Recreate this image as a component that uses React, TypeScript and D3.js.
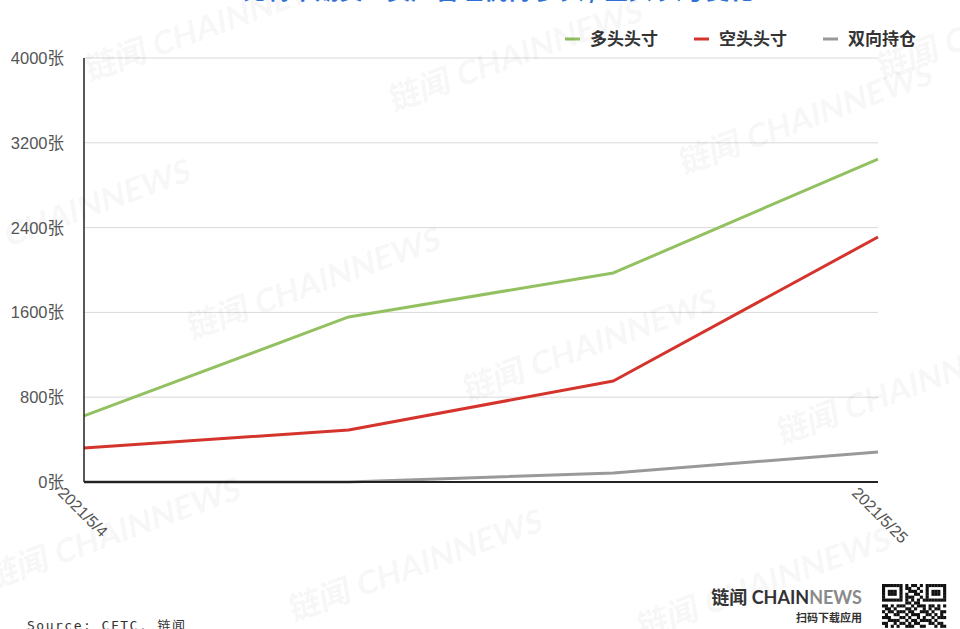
import { useEffect, useRef } from "react";
import * as d3 from "d3";

const DATES = ["2021/5/4", "2021/5/11", "2021/5/18", "2021/5/25"];
const LABELED_DATES = ["2021/5/4", "2021/5/25"];
const LONG_POS = [623, 1557, 1972, 3047];
const SHORT_POS = [321, 491, 953, 2311];
const SPREAD_POS = [0, 0, 85, 283];
const Y_TICKS = [0, 800, 1600, 2400, 3200, 4000];

const SERIES = [
  { name: "多头头寸", values: LONG_POS, color: "#93c162" },
  { name: "空头头寸", values: SHORT_POS, color: "#d4342c" },
  { name: "双向持仓", values: SPREAD_POS, color: "#999999" },
];

// watermark anchors (decoration)
const WATERMARKS: [number, number][] = [
  [88, 82], [392, 112], [682, 175], [-60, 272], [190, 340],
  [466, 402], [780, 445], [-10, 590], [292, 622], [640, 640], [880, 80],
];

const QR = [
  "1111111010110101111111",
  "1000001011001001000001",
  "1011101001110101011101",
  "1011101010011001011101",
  "1000001011100101000001",
  "1111111010101011111111",
  "0000000011011000000000",
  "1101011100101110110101",
  "0110100011010010101100",
  "1011011101100111010011",
  "0100110010111001101010",
  "1110001101001010010111",
  "0011110010110111101000",
  "1100101101011000110110",
  "0101010011100110001011",
];

const LABEL_FONT = "Liberation Sans, Noto Sans CJK SC, sans-serif";

export default function App() {
  const svgRef = useRef<SVGSVGElement>(null);

  useEffect(() => {
    if (!svgRef.current) return;
    const width = 960;
    const height = 629;
    const margin = { top: 58, right: 82, bottom: 147, left: 84 };
    const innerWidth = width - margin.left - margin.right;
    const innerHeight = height - margin.top - margin.bottom;

    const svg = d3.select(svgRef.current);
    svg.selectAll("*").remove();
    svg.attr("width", width).attr("height", height);

    svg.append("rect").attr("width", width).attr("height", height).attr("fill", "#fff");

    // title (cropped at the top edge)
    svg
      .append("text")
      .attr("x", 470)
      .attr("y", -1.5)
      .attr("text-anchor", "middle")
      .attr("font-family", "Noto Sans CJK SC")
      .attr("font-size", 24)
      .attr("font-weight", 700)
      .attr("fill", "#2f6fd6")
      .text("CME 比特币期货：资产管理机构 多头 / 空头 头寸变化");

    const g = svg.append("g").attr("transform", `translate(${margin.left},${margin.top})`);

    const x = d3.scalePoint<string>().domain(DATES).range([0, innerWidth]);
    const y = d3.scaleLinear().domain([0, 4000]).range([innerHeight, 0]);

    // gridlines
    g.selectAll(".grid")
      .data(Y_TICKS.filter((t) => t > 0))
      .join("line")
      .attr("x1", 0)
      .attr("x2", innerWidth)
      .attr("y1", (d) => y(d))
      .attr("y2", (d) => y(d))
      .attr("stroke", "#d9d9d9")
      .attr("stroke-width", 1);

    // y labels
    g.selectAll(".ylab")
      .data(Y_TICKS)
      .join("text")
      .attr("x", -20)
      .attr("y", (d) => y(d) + 6)
      .attr("text-anchor", "end")
      .attr("font-family", LABEL_FONT)
      .attr("font-size", 16.5)
      .attr("fill", "#555")
      .text((d) => `${d}张`);

    // x labels
    g.selectAll(".xlab")
      .data(LABELED_DATES)
      .join("text")
      .attr("transform", (d) => `translate(${x(d)! - 27},${innerHeight + 12}) rotate(45)`)
      .attr("text-anchor", "start")
      .attr("font-family", LABEL_FONT)
      .attr("font-size", 16)
      .attr("fill", "#555")
      .text((d) => d);

    // lines
    const line = d3
      .line<number>()
      .x((_, i) => x(DATES[i])!)
      .y((d) => y(d));

    [...SERIES].reverse().forEach((s) => {
      g.append("path")
        .datum(s.values)
        .attr("d", line)
        .attr("fill", "none")
        .attr("stroke", s.color)
        .attr("stroke-width", 3)
        .attr("stroke-linejoin", "round");
    });

    // axes
    g.append("line")
      .attr("x1", 0).attr("x2", 0)
      .attr("y1", 0).attr("y2", innerHeight)
      .attr("stroke", "#222").attr("stroke-width", 1.5);
    g.append("line")
      .attr("x1", 0).attr("x2", innerWidth)
      .attr("y1", innerHeight).attr("y2", innerHeight)
      .attr("stroke", "#222").attr("stroke-width", 2);

    // legend
    const legend = svg.append("g").attr("transform", "translate(565,39)");
    SERIES.forEach((s, i) => {
      const lx = i * 129;
      legend.append("line")
        .attr("x1", lx).attr("x2", lx + 15)
        .attr("y1", 0).attr("y2", 0)
        .attr("stroke", s.color).attr("stroke-width", 3);
      legend.append("text")
        .attr("x", lx + 25)
        .attr("y", 6)
        .attr("font-family", "Noto Sans CJK SC")
        .attr("font-size", 17)
        .attr("font-weight", 700)
        .attr("fill", "#333")
        .text(s.name);
    });

    // watermarks
    const wm = svg.append("g").attr("pointer-events", "none");
    WATERMARKS.forEach(([wx, wy]) => {
      wm.append("text")
        .attr("transform", `translate(${wx},${wy}) rotate(-20) skewX(-10)`)
        .attr("font-family", "Lato, Noto Sans CJK SC")
        .attr("font-size", 32)
        .attr("font-weight", 700)
        .attr("fill", "#000")
        .attr("fill-opacity", 0.055)
        .text("链闻 CHAINNEWS");
    });

    // source
    svg.append("text")
      .attr("x", 27)
      .attr("y", 630)
      .attr("font-family", "DejaVu Sans Mono, Noto Sans CJK SC")
      .attr("font-size", 13)
      .attr("letter-spacing", 1.5)
      .attr("fill", "#333")
      .text("Source: CFTC, 链闻");

    // logo
    const logo = svg.append("text")
      .attr("x", 862)
      .attr("y", 604)
      .attr("text-anchor", "end")
      .attr("font-family", "Lato, Noto Sans CJK SC")
      .attr("font-size", 18)
      .attr("font-weight", 700);
    logo.append("tspan").attr("fill", "#333").text("链闻 CHAIN");
    logo.append("tspan").attr("fill", "#8a8a8a").text("NEWS");
    svg.append("text")
      .attr("x", 862)
      .attr("y", 622)
      .attr("text-anchor", "end")
      .attr("font-family", "Noto Sans CJK SC")
      .attr("font-size", 11)
      .attr("font-weight", 700)
      .attr("fill", "#333")
      .text("扫码下载应用");

    // QR code decoration
    const qr = svg.append("g").attr("transform", "translate(882,584)");
    const cell = 64 / 22;
    QR.forEach((row, r) => {
      row.split("").forEach((c, k) => {
        if (c === "1") {
          qr.append("rect")
            .attr("x", k * cell).attr("y", r * cell)
            .attr("width", cell + 0.2).attr("height", cell + 0.2)
            .attr("fill", "#111");
        }
      });
    });
  }, []);

  return (
    <div style={{ position: "absolute", left: 0, top: 0, width: 960, height: 629, overflow: "hidden" }}>
      <svg ref={svgRef} style={{ display: "block" }} />
    </div>
  );
}
